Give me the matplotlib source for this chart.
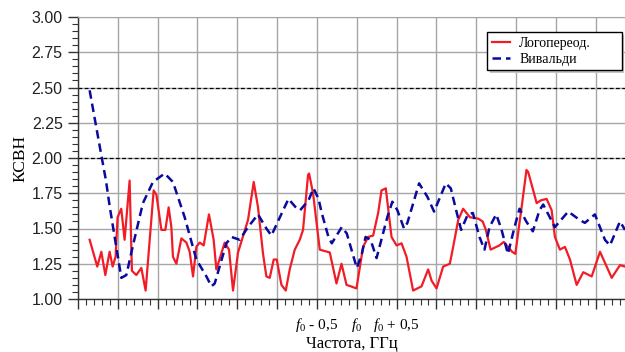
import numpy as np
import matplotlib
matplotlib.use("Agg")
import matplotlib.pyplot as plt
from matplotlib.ticker import MultipleLocator, FormatStrFormatter

# frequency offset from f0 (GHz) and VSWR values
red_x = [-3.354, -3.258, -3.207, -3.157, -3.103, -3.065, -3.028, -3.003, -2.957, -2.915,
         -2.852, -2.823, -2.768, -2.705, -2.651, -2.550, -2.516, -2.453, -2.403, -2.362,
         -2.328, -2.308, -2.265, -2.202, -2.139, -2.098, -2.056, -2.014, -1.972, -1.922,
         -1.856, -1.797, -1.763, -1.658, -1.604, -1.554, -1.491, -1.366, -1.294, -1.240,
         -1.177, -1.135, -1.093, -1.043, -1.005, -0.946, -0.892, -0.842, -0.779, -0.716,
         -0.675, -0.612, -0.599, -0.549, -0.465, -0.339, -0.255, -0.192, -0.129, -0.075,
         -0.004, 0.079, 0.142, 0.205, 0.268, 0.310, 0.364, 0.436, 0.499, 0.562,
         0.624, 0.707, 0.813, 0.896, 0.939, 1.001, 1.084, 1.168, 1.210, 1.273,
         1.335, 1.420, 1.524, 1.580, 1.620, 1.680, 1.790, 1.845, 1.950, 1.990,
         2.070, 2.130, 2.152, 2.215, 2.258, 2.312, 2.383, 2.446, 2.487, 2.550,
         2.613, 2.676, 2.760, 2.843, 2.949, 3.053, 3.137, 3.200, 3.304, 3.367]
red_y = [1.42, 1.23, 1.335, 1.17, 1.335, 1.23, 1.30, 1.58, 1.64, 1.42,
         1.84, 1.20, 1.17, 1.22, 1.06, 1.77, 1.74, 1.49, 1.49, 1.65,
         1.51, 1.30, 1.25, 1.43, 1.40, 1.335, 1.16, 1.37, 1.40, 1.38,
         1.60, 1.42, 1.21, 1.40, 1.35, 1.06, 1.33, 1.56, 1.83, 1.65,
         1.32, 1.16, 1.15, 1.28, 1.28, 1.10, 1.06, 1.21, 1.35, 1.42,
         1.49, 1.88, 1.89, 1.75, 1.35, 1.33, 1.11, 1.25, 1.10, 1.09,
         1.075, 1.37, 1.44, 1.45, 1.61, 1.77, 1.785, 1.44, 1.38, 1.395,
         1.30, 1.06, 1.09, 1.21, 1.13, 1.075, 1.23, 1.25, 1.37, 1.56,
         1.64, 1.58, 1.57, 1.55, 1.49, 1.35, 1.38, 1.405, 1.335, 1.32,
         1.655, 1.915, 1.90, 1.77, 1.68, 1.70, 1.71, 1.63, 1.44, 1.35,
         1.37, 1.28, 1.10, 1.19, 1.16, 1.335, 1.23, 1.15, 1.24, 1.23]

blue_x = [-3.354, -3.204, -3.149, -3.103, -3.040, -2.956, -2.893, -2.810, -2.685, -2.559,
          -2.412, -2.308, -2.161, -2.014, -1.888, -1.825, -1.784, -1.637, -1.574, -1.470,
          -1.366, -1.240, -1.135, -1.072, -0.990, -0.858, -0.774, -0.711, -0.606, -0.543,
          -0.480, -0.440, -0.356, -0.314, -0.189, -0.126, 0.000, 0.063, 0.110, 0.173,
          0.248, 0.383, 0.446, 0.509, 0.593, 0.635, 0.782, 0.886, 0.970, 1.117,
          1.180, 1.247, 1.310, 1.394, 1.457, 1.540, 1.603, 1.666, 1.750, 1.813,
          1.897, 1.980, 2.043, 2.127, 2.210, 2.294, 2.340, 2.487, 2.654, 2.800,
          2.863, 2.989, 3.115, 3.178, 3.304, 3.367]
blue_y = [2.48, 2.01, 1.84, 1.66, 1.44, 1.15, 1.17, 1.38, 1.68, 1.83,
          1.89, 1.83, 1.58, 1.28, 1.16, 1.09, 1.11, 1.395, 1.44, 1.42,
          1.51, 1.60, 1.50, 1.45, 1.55, 1.71, 1.655, 1.63, 1.70, 1.785,
          1.71, 1.61, 1.44, 1.395, 1.51, 1.465, 1.22, 1.32, 1.44, 1.42,
          1.29, 1.58, 1.69, 1.63, 1.50, 1.54, 1.82, 1.725, 1.62, 1.82,
          1.785, 1.63, 1.49, 1.60, 1.61, 1.44, 1.35, 1.51, 1.60, 1.50,
          1.32, 1.51, 1.64, 1.55, 1.48, 1.63, 1.67, 1.51, 1.62, 1.56,
          1.54, 1.60, 1.42, 1.38, 1.55, 1.49]

series_labels = ["Логопереод.", "Вивальди"]
limit_levels = [2.0, 2.5]
xtick_pos = [-0.5, 0.0, 0.5]
xtick_labels = [r"$f_\mathit{0}$ - 0,5", r"$f_\mathit{0}$", r"$f_\mathit{0}$ + 0,5"]

plt.rcParams.update({
    "font.family": "Liberation Sans",
    "mathtext.fontset": "custom",
    "mathtext.rm": "Liberation Serif",
    "mathtext.it": "Liberation Serif:italic",
})

fig = plt.figure(figsize=(6.25, 3.52), dpi=100)
ax = fig.add_axes([78 / 625, 53 / 352, 547 / 625, 282 / 352])

ax.plot(red_x, red_y, color="#f21c26", lw=1.6, label=series_labels[0], zorder=3)
ax.plot(blue_x, blue_y, color="#0a0a9e", lw=1.8, dashes=(3.4, 2.0),
        label=series_labels[1], zorder=4)

for lvl in limit_levels:
    ax.axhline(lvl, color="black", lw=0.9, dashes=(3, 2), zorder=2)

ax.xaxis.set_major_locator(MultipleLocator(0.5))
ax.xaxis.set_minor_locator(MultipleLocator(0.1))
ax.yaxis.set_major_locator(MultipleLocator(0.25))
ax.yaxis.set_minor_locator(MultipleLocator(0.05))
ax.yaxis.set_major_formatter(FormatStrFormatter("%.2f"))

ax.grid(which="major", color="#a6a6a6", lw=1.0, zorder=0)
ax.set_axisbelow(True)

# only three labelled positions on the x axis
xt = np.arange(-3.5, 3.4, 0.5)
ax.set_xticks(xt)
ax.set_xticklabels([xtick_labels[xtick_pos.index(round(v, 2))] if round(v, 2) in xtick_pos else ""
                    for v in xt], family="Liberation Serif", fontsize=11)
ax.set_xlim(-3.5, 3.367)
ax.set_ylim(1.0, 3.0)

ax.tick_params(axis="both", which="major", direction="out", length=7, width=1,
               color="#333333")
ax.tick_params(axis="both", which="minor", direction="out", length=4, width=0.8,
               color="#333333")
ax.tick_params(axis="y", labelsize=11.5, pad=4, labelcolor="#222222")
ax.tick_params(axis="x", pad=5)

for s in ["left", "bottom"]:
    ax.spines[s].set_color("#333333")
    ax.spines[s].set_linewidth(1.0)
ax.spines["top"].set_color("#a6a6a6")
ax.spines["right"].set_visible(False)

ax.set_ylabel("КСВН", family="Liberation Serif", fontsize=12.5, labelpad=2.5)
ax.set_xlabel("Частота, ГГц", family="Liberation Serif", fontsize=12, labelpad=2)

leg = ax.legend(loc="upper left", bbox_to_anchor=(0.748, 0.80, 0.246, 0.147),
                mode="expand", borderaxespad=0,
                fancybox=False, framealpha=1, edgecolor="black",
                shadow={"facecolor": "#c4c4c4", "edgecolor": "none", "alpha": 1},
                prop={"family": "Liberation Serif", "size": 10},
                handlelength=1.3, handletextpad=0.65, labelspacing=0.2,
                borderpad=0.35)
leg.get_frame().set_linewidth(1.0)

fig.savefig("out.png", dpi=100)
